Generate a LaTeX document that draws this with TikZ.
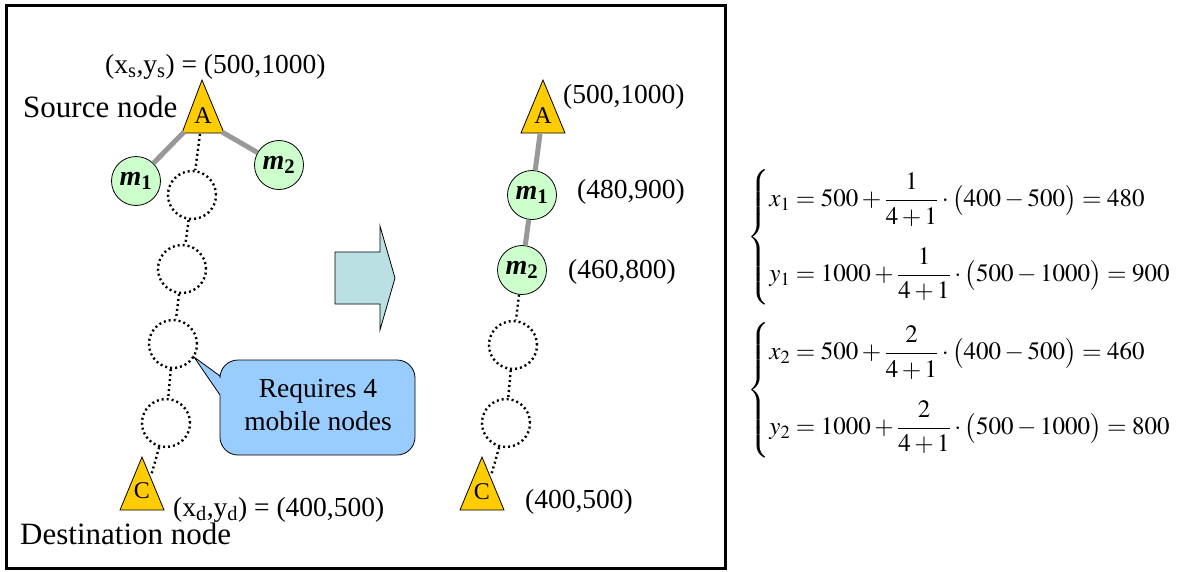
\documentclass[tikz,border=0pt]{standalone}
\usepackage{amsmath}
\usepackage{mathptmx}
\usepackage{fontspec}
\setmainfont{Liberation Serif}
\usetikzlibrary{calc}
\definecolor{trifill}{HTML}{FFCC00}
\definecolor{mgreen}{HTML}{CCFFCC}
\definecolor{cblue}{HTML}{99CCFF}
\definecolor{arrowfill}{HTML}{BBE0E3}
\definecolor{linkgray}{HTML}{999999}
\begin{document}
\begin{tikzpicture}[x=1pt,y=-1pt,
  mobile/.style={circle, draw, line width=0.8pt, fill=mgreen, minimum size=49pt, inner sep=0pt,
    font=\fontsize{28}{30}\selectfont\bfseries\itshape},
  emptyslot/.style={circle, draw, line width=2.4pt, dash pattern=on 2pt off 3pt, minimum size=48pt, inner sep=0pt},
  chain/.style={line width=2.4pt, dash pattern=on 2pt off 3pt},
  link/.style={draw=linkgray, line width=5pt},
  lbl/.style={font=\fontsize{27.5}{30}\selectfont, inner sep=0pt, anchor=base west},
  biglbl/.style={font=\fontsize{31}{34}\selectfont, inner sep=0pt, anchor=base west},
  trishape/.style={fill=trifill, draw, line width=0.8pt, line join=miter},
  trilbl/.style={font=\fontsize{24}{24}\selectfont, inner sep=0pt, anchor=base},
  eqn/.style={anchor=west, inner sep=0pt, font=\fontsize{25}{30}\selectfont}
]
\useasboundingbox (0,0) rectangle (1179,571);
% frame
\draw[line width=3pt] (6.5,5.5) rectangle (725,568.5);

% ===== left scene =====
\filldraw[trishape] (202,80) -- (224,133) -- (182,133) -- cycle;
\node[trilbl] (Al) at (203,123) {A};
\coordinate (Abl) at (184,132);
\coordinate (Abr) at (222,132);
\coordinate (Abc) at (200,134);
\filldraw[trishape] (142,457) -- (164,510) -- (120,510) -- cycle;
\node[trilbl] (Cl) at (142,498) {C};
\coordinate (Cle) at (151,476);

\node[mobile] (m1l) at (136,181) {m\textsubscript{\upshape 1}};
\node[mobile] (m2l) at (279,165) {m\textsubscript{\upshape 2}};
\draw[link] (Abl) -- (m1l);
\draw[link] (Abr) -- (m2l);

\node[emptyslot] (e1l) at (192,195) {};
\node[emptyslot] (e2l) at (182,269) {};
\node[emptyslot] (e3l) at (173,344) {};
\node[emptyslot] (e4l) at (166,423) {};
\draw[chain] (Abc) -- (e1l);
\draw[chain] (e1l) -- (e2l);
\draw[chain] (e2l) -- (e3l);
\draw[chain] (e3l) -- (e4l);
\draw[chain] (e4l) -- (Cle);

\node[lbl] (srcxy) at (105,73) {(x\textsubscript{s},y\textsubscript{s}) = (500,1000)};
\node[biglbl] (srcname) at (23,117) {Source node};
\node[lbl] (dstxy) at (173,516) {(x\textsubscript{d},y\textsubscript{d}) = (400,500)};
\node[biglbl] (dstname) at (20,544) {Destination node};

% callout
\coordinate (tip) at (194,357);
\path[draw, fill=cblue, line width=0.8pt]
  (220,395) [rounded corners=18pt] -- (220,455) -- (415,455) -- (415,360) -- (220,360) [sharp corners] -- (220,376) -- (tip) -- cycle;
\node[lbl, anchor=center, align=center, font=\fontsize{27.5}{33}\selectfont] (callout) at (318,405) {Requires 4\\mobile nodes};

% block arrow
\filldraw[fill=arrowfill, draw=black, line width=0.8pt, line join=miter]
  (335,252) -- (380,252) -- (380,226) -- (395,278) -- (380,330) -- (380,304) -- (335,304) -- cycle;

% ===== right scene =====
\filldraw[trishape] (543,80) -- (565,133) -- (521,133) -- cycle;
\node[trilbl] (Ar) at (543,123) {A};
\coordinate (Arc) at (540,134);
\filldraw[trishape] (482,457) -- (504,510) -- (460,510) -- cycle;
\node[trilbl] (Cr) at (482,499) {C};
\coordinate (Cre) at (491,476);

\node[mobile] (m1r) at (532,195) {m\textsubscript{\upshape 1}};
\node[mobile] (m2r) at (522,270) {m\textsubscript{\upshape 2}};
\draw[link] (Arc) -- (m1r);
\draw[link] (m1r) -- (m2r);

\node[emptyslot] (e3r) at (513,345) {};
\node[emptyslot] (e4r) at (506,423) {};
\draw[chain] (m2r) -- (e3r);
\draw[chain] (e3r) -- (e4r);
\draw[chain] (e4r) -- (Cre);

\node[lbl] (Arxy) at (563,103) {(500,1000)};
\node[lbl] (m1rxy) at (577,198) {(480,900)};
\node[lbl] (m2rxy) at (568,278) {(460,800)};
\node[lbl] (Crxy) at (525,508) {(400,500)};

% ===== equations =====
\node[eqn] (eq1) at (747,237) {$\left\{\begin{array}{@{}l@{}}
  x_1 = 500+\dfrac{1}{4+1}\cdot\bigl(400-500\bigr)=480\\[32pt]
  y_1 = 1000+\dfrac{1}{4+1}\cdot\bigl(500-1000\bigr)=900
  \end{array}\right.$};
\node[eqn] (eq2) at (747,390) {$\left\{\begin{array}{@{}l@{}}
  x_2 = 500+\dfrac{2}{4+1}\cdot\bigl(400-500\bigr)=460\\[32pt]
  y_2 = 1000+\dfrac{2}{4+1}\cdot\bigl(500-1000\bigr)=800
  \end{array}\right.$};
\end{tikzpicture}
\end{document}
